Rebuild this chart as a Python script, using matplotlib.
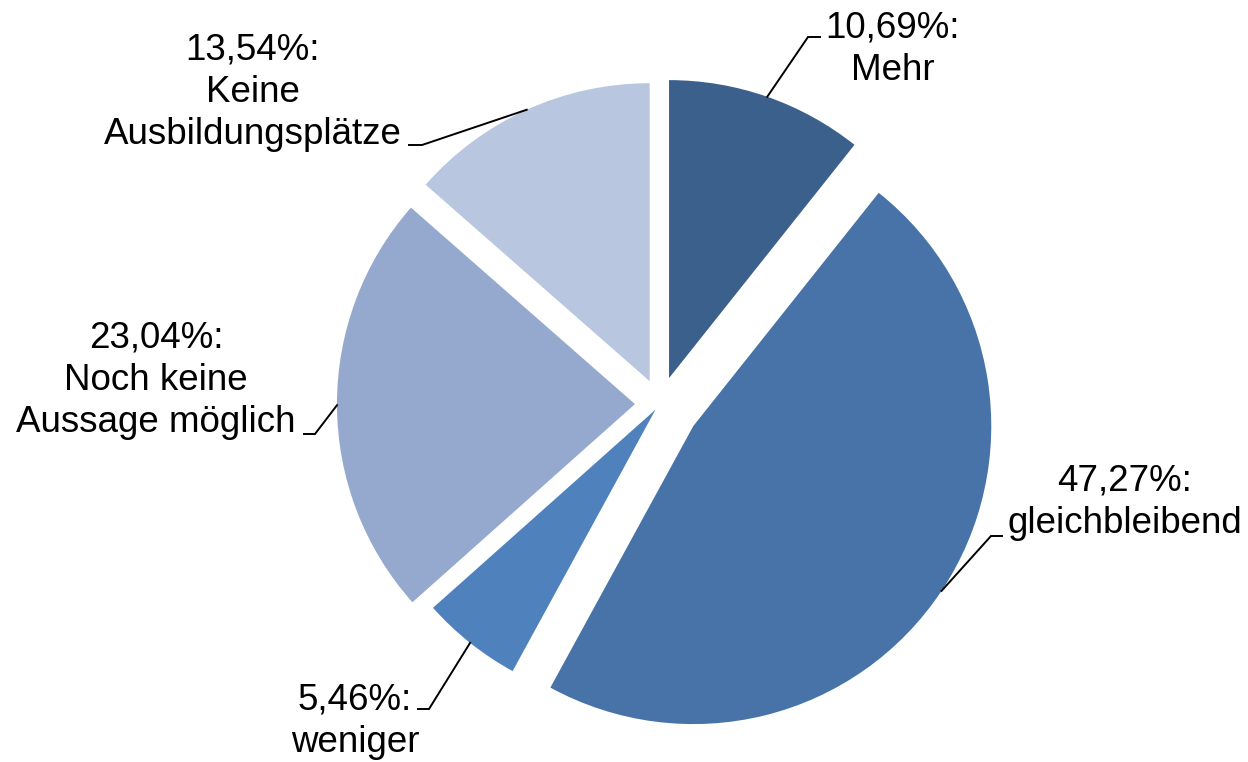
import matplotlib
matplotlib.use("Agg")
import matplotlib.pyplot as plt
import numpy as np

plt.rcParams["font.family"] = ["Liberation Sans", "DejaVu Sans"]

# data
categories = ["Mehr", "gleichbleibend", "weniger", "Noch keine\nAussage möglich",
              "Keine\nAusbildungsplätze"]
shares = [10.69, 47.27, 5.46, 23.04, 13.54]
colors = ["#3C608C", "#4773A8", "#4F81BD", "#95A9CE", "#B9C6E0"]
explode = [0.092, 0.134, 0.024, 0.084, 0.084]

# layout (pixel coords, y from top): label anchor (last-line baseline) and leader elbow
label_pos = [(893, 80), (1125, 533), (355, 752), (156, 432), (253, 144)]
elbow_pos = [(808, 37), (991, 536), (429, 709), (315, 434), (422, 145)]
elbow_end = [820, 1002, 418, 304, 409]

W, H = 1248, 762
fig = plt.figure(figsize=(W / 100, H / 100), dpi=100)
ax = fig.add_axes([0, 0, 1, 1])

R = 298
# pie explode is in data units, so scale the fractions by the radius
wedges, _ = ax.pie(shares, colors=colors, explode=[e * R for e in explode],
                   startangle=90, counterclock=False, radius=R,
                   center=(660, H - 404), wedgeprops=dict(linewidth=0), frame=True)
ax.set_xlim(0, W)
ax.set_ylim(0, H)
ax.set_aspect("equal")
ax.axis("off")

for i, w in enumerate(wedges):
    mid = np.deg2rad((w.theta1 + w.theta2) / 2)
    cx, cy = w.center
    sx, sy = cx + w.r * np.cos(mid), cy + w.r * np.sin(mid)
    ex, ey = elbow_pos[i]
    ax.plot([sx, ex, elbow_end[i]], [sy, H - ey, H - ey], color="black", lw=1.4,
            solid_joinstyle="miter")
    txt = f"{shares[i]:.2f}".replace(".", ",") + "%:\n" + categories[i]
    lx, ly = label_pos[i]
    ax.text(lx, H - ly, txt, ha="center", va="baseline", fontsize=26.5,
            multialignment="center", linespacing=1.26, color="black")

fig.savefig("out.png", dpi=100)
plt.close()
